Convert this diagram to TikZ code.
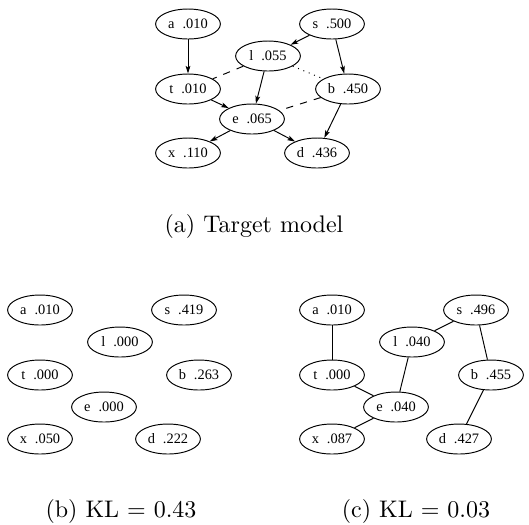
\documentclass[tikz,border=0pt]{standalone}
\usepackage{fontspec}
\usepackage{tikz}
\usetikzlibrary{arrows.meta,shapes}
\newfontfamily\valfont{Liberation Serif}
\newcommand{\val}[2]{#1\hspace{0.55em}#2}

\begin{document}
\begin{tikzpicture}[x=0.4167pt,y=-0.4167pt,>={Stealth[length=3.2pt,width=2pt,inset=0.7pt]},thin]

  \tikzstyle{var}=[ellipse,draw=black,minimum width=27pt,minimum height=12.5pt,
                   inner sep=0pt,font=\valfont\fontsize{6}{7}\selectfont]
  \tikzstyle{dep}=[->]
  \tikzstyle{link}=[-]
  \tikzstyle{weak}=[dashed]
  \tikzstyle{faint}=[dotted]

  \useasboundingbox (0,0) rectangle (529,524);

  \begin{scope}[shift={(188,24)}]
    % Target model
    \node [var] (a1) at (0,0)     {\val{a}{.010}};
    \node [var] (s1) at (144,0)   {\val{s}{.500}};
    \node [var] (l1) at (80,32)   {\val{l}{.055}};
    \node [var] (t1) at (0,65)    {\val{t}{.010}};
    \node [var] (b1) at (160,65)  {\val{b}{.450}};
    \node [var] (e1) at (64,95)   {\val{e}{.065}};
    \node [var] (x1) at (0,129)   {\val{x}{.110}};
    \node [var] (d1) at (129,129) {\val{d}{.436}};
    \path (a1) edge [dep]   (t1)
          (s1) edge [dep]   (l1)
          (s1) edge [dep]   (b1)
          (l1) edge [dep]   (e1)
          (t1) edge [dep]   (e1)
          (e1) edge [dep]   (x1)
          (e1) edge [dep]   (d1)
          (b1) edge [dep]   (d1)
          (l1) edge [weak]  (t1)
          (b1) edge [weak]  (e1)
          (l1) edge [faint] (b1);
  \end{scope}
  \node (cap1) at (254,226) {(a) Target model};

  \begin{scope}[shift={(40,310)}]
    % no links
    \node [var] (a2) at (0,0)     {\val{a}{.010}};
    \node [var] (s2) at (144,0)   {\val{s}{.419}};
    \node [var] (l2) at (80,32)   {\val{l}{.000}};
    \node [var] (t2) at (0,65)    {\val{t}{.000}};
    \node [var] (b2) at (159,65)  {\val{b}{.263}};
    \node [var] (e2) at (64,97)   {\val{e}{.000}};
    \node [var] (x2) at (0,129)   {\val{x}{.050}};
    \node [var] (d2) at (128,129) {\val{d}{.222}};
  \end{scope}
  \node (cap2) at (121,511) {(b) KL $=$ 0.43};

  \begin{scope}[shift={(332,310)}]
    % learned links
    \node [var] (a3) at (0,0)     {\val{a}{.010}};
    \node [var] (s3) at (144,0)   {\val{s}{.496}};
    \node [var] (l3) at (80,32)   {\val{l}{.040}};
    \node [var] (t3) at (0,65)    {\val{t}{.000}};
    \node [var] (b3) at (159,65)  {\val{b}{.455}};
    \node [var] (e3) at (64,97)   {\val{e}{.040}};
    \node [var] (x3) at (0,129)   {\val{x}{.087}};
    \node [var] (d3) at (127,129) {\val{d}{.427}};
    \path (a3) edge [link] (t3)
          (s3) edge [link] (l3)
          (s3) edge [link] (b3)
          (l3) edge [link] (e3)
          (t3) edge [link] (e3)
          (e3) edge [link] (x3)
          (b3) edge [link] (d3);
  \end{scope}
  \node (cap3) at (416,511) {(c) KL $=$ 0.03};

\end{tikzpicture}
\end{document}
